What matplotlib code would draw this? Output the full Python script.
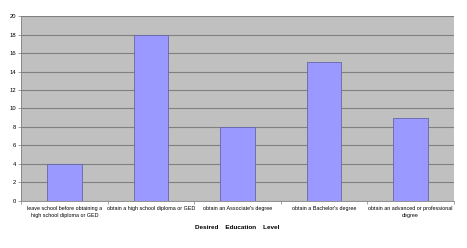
import matplotlib
matplotlib.use("Agg")
import matplotlib.pyplot as plt
import numpy as np

plt.rcParams["font.family"] = ["Liberation Sans", "DejaVu Sans"]

categories = ["leave school before obtaining a\nhigh school diploma or GED",
              "obtain a high school diploma or GED",
              "obtain an Associate's degree",
              "obtain a Bachelor's degree",
              "obtain an advanced or professional\ndegree"]
counts = [4, 18, 8, 15, 9]

fig = plt.figure(figsize=(4.67, 2.48), dpi=100)
ax = fig.add_axes([0.045, 0.19, 0.927, 0.745])
ax.set_facecolor("#c0c0c0")

x = np.arange(len(categories))
ax.bar(x, counts, width=0.4, color="#9999ff", edgecolor="#6666aa", linewidth=0.6, zorder=3)

ax.set_xlim(-0.5, len(categories) - 0.5)
ax.set_ylim(0, 20)
ax.set_yticks(np.arange(0, 21, 2))
ax.yaxis.grid(True, color="#808080", linewidth=0.8, zorder=1)
ax.tick_params(axis="y", labelsize=4.2, length=2, width=0.5, color="#808080", pad=1.5)
ax.set_xticks(np.arange(-0.5, len(categories), 1.0), minor=False)
ax.set_xticklabels([])
ax.set_xticks(x, minor=True)
ax.set_xticklabels(categories, minor=True, fontsize=3.9, linespacing=1.5)
ax.tick_params(axis="x", which="major", length=2, width=0.5, color="#808080")
ax.tick_params(axis="x", which="minor", length=0, pad=4)

for s in ["top", "right"]:
    ax.spines[s].set_visible(False)
for s in ["left", "bottom"]:
    ax.spines[s].set_color("#808080")
    ax.spines[s].set_linewidth(0.6)

ax.set_xlabel("Desired    Education    Level", fontsize=4.6, fontweight="bold", labelpad=5)

fig.savefig("out.png", dpi=100)
